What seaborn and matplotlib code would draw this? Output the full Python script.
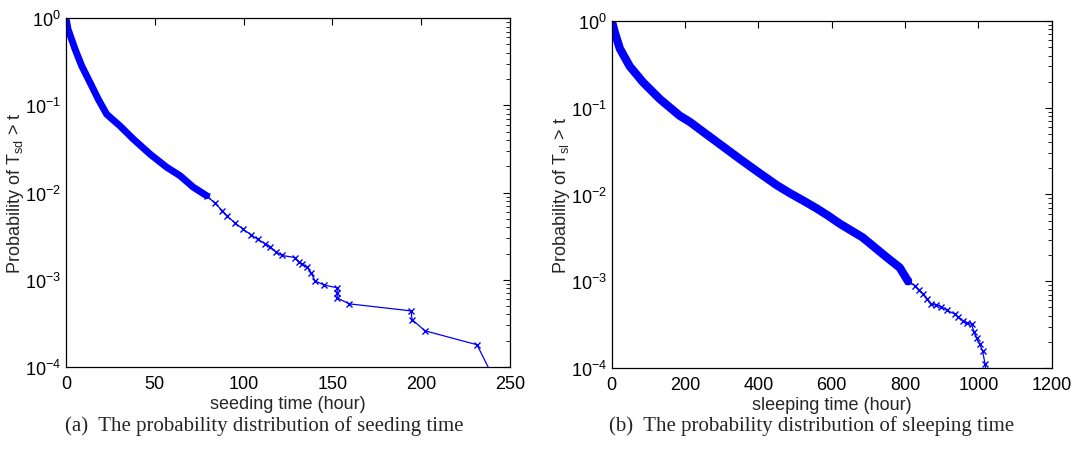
import seaborn as sns
import matplotlib
matplotlib.use("Agg")
import matplotlib.pyplot as plt

# seeding time CCDF (hours, probability)
seed_t_dense = [0, 1.1, 5.1, 8.8, 13.5, 18.2, 22.9, 30.4, 37.9, 47.3, 56.7, 64.2, 71.7, 79.2]
seed_p_dense = [1.0, 0.75, 0.44, 0.284, 0.183, 0.117, 0.079, 0.058, 0.041, 0.0276, 0.0195, 0.0156, 0.0115, 0.0092]
seed_t_tail = [79.2, 84.0, 88.0, 90.7, 95.0, 99.7, 104.0, 108.0, 112.0, 114.9, 118.0, 121.6, 128.9, 131.0,
               133.0, 135.7, 138.0, 140.2, 145.3, 152.6, 152.8, 152.6, 159.4, 194.3, 194.8, 202.1, 231.4, 245.0]
seed_p_tail = [0.0092, 0.0075, 0.0062, 0.0054, 0.0045, 0.0038, 0.0033, 0.0029, 0.0026, 0.0024, 0.0021, 0.0019,
               0.0018, 0.0016, 0.0015, 0.0014, 0.0012, 0.00097, 0.00087, 0.00081, 0.0007, 0.00062, 0.00053,
               0.00044, 0.00035, 0.00026, 0.00018, 0.00005]

# sleeping time CCDF
sleep_t_dense = [0, 8, 22, 49, 86, 131, 185, 213, 249, 300, 349, 404, 450, 485, 520, 559, 590, 622, 684, 749, 785, 808]
sleep_p_dense = [1.0, 0.74, 0.48, 0.30, 0.195, 0.126, 0.081, 0.0686, 0.0528, 0.0366, 0.0257, 0.0175, 0.0128,
                 0.0104, 0.0086, 0.0069, 0.0057, 0.0046, 0.0032, 0.0019, 0.00144, 0.00100]
sleep_t_tail = [808, 826, 838, 849, 860, 870, 885, 899, 915, 935, 945, 958, 970, 981, 988, 995, 1003, 1011, 1018, 1024]
sleep_p_tail = [0.00100, 0.00089, 0.00079, 0.00071, 0.00062, 0.00055, 0.00053, 0.00051, 0.00046, 0.00042, 0.00039,
                0.00035, 0.00033, 0.00032, 0.00026, 0.00022, 0.00019, 0.000158, 0.000112, 0.00007]

sns.set_style("white")
plt.rcParams['font.family'] = ['Liberation Sans', 'DejaVu Sans']
plt.rcParams['mathtext.fontset'] = 'custom'
plt.rcParams['mathtext.rm'] = 'Liberation Sans'
plt.rcParams['mathtext.it'] = 'Liberation Sans:italic'

fig = plt.figure(figsize=(10.79, 4.56), dpi=100)
ax1 = fig.add_axes([0.0612, 0.193, 0.4115, 0.765])
ax2 = fig.add_axes([0.567, 0.1908, 0.4078, 0.761])

blue = (0, 0, 1)


def draw(ax, td, pd_, tt, pt, xmax, xstep, xlabel, ylabel, band):
    sns.lineplot(x=td, y=pd_, ax=ax, color=blue, lw=band, sort=False, estimator=None,
                 solid_capstyle='round', solid_joinstyle='round')
    sns.lineplot(x=tt, y=pt, ax=ax, color=blue, lw=0.9, marker='x', markersize=5,
                 markeredgewidth=1.0, markeredgecolor=blue, sort=False, estimator=None)
    ax.set_yscale('log')
    ax.set_ylim(1e-4, 1)
    ax.set_xlim(0, xmax)
    ax.set_xticks(range(0, xmax + 1, xstep))
    ax.tick_params(axis='both', which='both', direction='in', top=True, right=True,
                   labelsize=13, colors='black')
    ax.tick_params(axis='x', which='major', pad=6)
    ax.tick_params(which='major', length=5, width=0.8)
    ax.tick_params(which='minor', length=3, width=0.6)
    for s in ax.spines.values():
        s.set_color('black')
        s.set_linewidth(0.9)
    ax.set_xlabel(xlabel, fontsize=13, labelpad=2)
    ax.set_ylabel(ylabel, fontsize=13, labelpad=-1)


draw(ax1, seed_t_dense, seed_p_dense, seed_t_tail, seed_p_tail, 250, 50,
     'seeding time (hour)', r'Probability of T$_{\rm sd}$ > t', 5)
draw(ax2, sleep_t_dense, sleep_p_dense, sleep_t_tail, sleep_p_tail, 1200, 200,
     'sleeping time (hour)', r'Probability of T$_{\rm sl}$ > t', 6)

fig.text(0.2447, 0.066, '(a)  The probability distribution of seeding time', ha='center', va='center',
         fontsize=15, family='Liberation Serif')
fig.text(0.752, 0.066, '(b)  The probability distribution of sleeping time', ha='center', va='center',
         fontsize=15, family='Liberation Serif')

fig.savefig('out.png', dpi=100)
